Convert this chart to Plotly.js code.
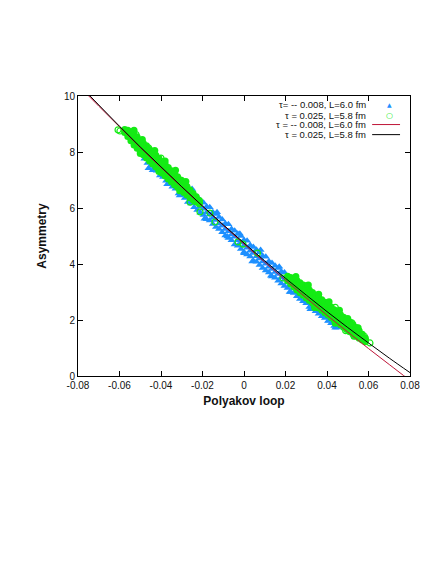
<!DOCTYPE html>
<html>
<head>
<meta charset="utf-8">
<script src="https://cdn.plot.ly/plotly-3.0.1.min.js"></script>
<style>
  body { margin: 0; background: white; }
  #graph { width: 436px; height: 564px; }
</style>
</head>
<body>
<div id="graph"></div>
<script>
// Datos

// tau = -0.008, L = 6.0 fm (triangulos azules): borde inferior, centro y borde superior de la banda
var blueX = [
    -0.048, -0.0465, -0.045, -0.0435, -0.042, -0.0405, -0.039, -0.0375, -0.036, -0.0345,
    -0.033, -0.0315, -0.030, -0.0285, -0.027, -0.0255, -0.024, -0.0225, -0.021, -0.0195,
    -0.018, -0.0165, -0.015, -0.0135, -0.012, -0.0105, -0.009, -0.0075, -0.006, -0.0045,
    -0.003, -0.0015, 0.000, 0.0015, 0.003, 0.0045, 0.006, 0.0075, 0.009, 0.0105,
    0.012, 0.0135, 0.015, 0.0165, 0.018, 0.0195, 0.021, 0.0225, 0.024, 0.0255,
    0.027, 0.0285, 0.030, 0.0315, 0.033, 0.0345, 0.036, 0.0375, 0.039, 0.0405,
    0.042, 0.0435, 0.045
];
var blueLow = [
    7.76, 7.61, 7.50, 7.40, 7.33, 7.16, 7.11, 6.97, 6.87, 6.76,
    6.69, 6.52, 6.47, 6.36, 6.21, 6.16, 6.03, 5.93, 5.83, 5.75,
    5.60, 5.55, 5.43, 5.32, 5.25, 5.13, 5.02, 4.93, 4.85, 4.70,
    4.65, 4.54, 4.43, 4.34, 4.27, 4.12, 4.08, 3.96, 3.86, 3.77,
    3.70, 3.55, 3.51, 3.40, 3.30, 3.21, 3.14, 3.00, 2.96, 2.85,
    2.75, 2.67, 2.60, 2.46, 2.42, 2.31, 2.22, 2.13, 2.07, 1.96,
    1.88, 1.79, 1.73
];
var blueMid = [
    7.95, 7.86, 7.73, 7.64, 7.52, 7.43, 7.30, 7.21, 7.09, 7.00,
    6.88, 6.79, 6.67, 6.58, 6.46, 6.38, 6.26, 6.17, 6.05, 5.97,
    5.85, 5.77, 5.65, 5.57, 5.45, 5.37, 5.25, 5.17, 5.05, 4.97,
    4.85, 4.77, 4.66, 4.58, 4.47, 4.39, 4.28, 4.20, 4.09, 4.01,
    3.90, 3.82, 3.71, 3.64, 3.53, 3.45, 3.34, 3.27, 3.16, 3.09,
    2.98, 2.91, 2.80, 2.73, 2.62, 2.55, 2.44, 2.37, 2.27, 2.20,
    2.10, 2.03, 1.93
];
var blueHigh = [
    8.15, 8.08, 7.93, 7.89, 7.72, 7.65, 7.53, 7.43, 7.29, 7.25,
    7.08, 7.01, 6.90, 6.80, 6.66, 6.63, 6.46, 6.39, 6.28, 6.19,
    6.05, 6.03, 5.85, 5.79, 5.68, 5.59, 5.45, 5.42, 5.25, 5.19,
    5.08, 5.00, 4.86, 4.83, 4.67, 4.61, 4.51, 4.42, 4.29, 4.26,
    4.10, 4.04, 3.94, 3.86, 3.73, 3.70, 3.54, 3.49, 3.39, 3.30,
    3.18, 3.15, 3.00, 2.94, 2.85, 2.76, 2.64, 2.61, 2.47, 2.41,
    2.33, 2.23, 2.12
];
// puntos azules sueltos en los bordes
var blueEdgeX = [
    -0.046, -0.044, -0.037, -0.031, -0.025, -0.019, -0.013, -0.008, -0.002, 0.000,
    0.004, 0.008, 0.013, 0.017, 0.022, 0.026, 0.032, 0.037, 0.041, 0.044
];
var blueEdgeY = [
    7.42, 7.35, 6.85, 6.45, 6.68, 5.62, 5.85, 4.98, 5.08, 4.38,
    4.09, 4.50, 3.58, 3.90, 3.00, 3.35, 2.38, 2.72, 1.98, 1.72
];

// tau = 0.025, L = 5.8 fm (circulos verdes): tramo izquierdo
var greenLX = [
    -0.0575, -0.056, -0.0545, -0.053, -0.0515, -0.050, -0.0485, -0.047, -0.0455, -0.044,
    -0.0425, -0.041, -0.0395, -0.038, -0.0365, -0.035, -0.0335, -0.032, -0.0305, -0.029,
    -0.0275, -0.026, -0.0245, -0.023, -0.0215
];
var greenLLow = [
    8.70, 8.55, 8.40, 8.25, 8.13, 8.02, 7.90, 7.79, 7.68, 7.57,
    7.46, 7.36, 7.25, 7.14, 7.04, 6.94, 6.83, 6.74, 6.64, 6.55,
    6.46, 6.37, 6.29, 6.21, 6.14
];
var greenLMid = [
    8.76, 8.66, 8.56, 8.44, 8.33, 8.22, 8.10, 7.99, 7.88, 7.77,
    7.66, 7.57, 7.45, 7.35, 7.24, 7.13, 7.02, 6.92, 6.81, 6.71,
    6.61, 6.50, 6.40, 6.30, 6.20
];
var greenLHigh = [
    8.80, 8.78, 8.72, 8.63, 8.54, 8.42, 8.31, 8.22, 8.09, 7.99,
    7.88, 7.78, 7.66, 7.56, 7.45, 7.33, 7.23, 7.12, 7.00, 6.88,
    6.77, 6.64, 6.52, 6.40, 6.27
];

// tramo derecho
var greenRX = [
    0.021, 0.0225, 0.024, 0.0255, 0.027, 0.0285, 0.030, 0.0315, 0.033, 0.0345,
    0.036, 0.0375, 0.039, 0.0405, 0.042, 0.0435, 0.045, 0.0465, 0.048, 0.0495,
    0.051, 0.0525, 0.054, 0.0555, 0.057, 0.0585
];
var greenRLow = [
    3.40, 3.29, 3.18, 3.07, 2.97, 2.88, 2.79, 2.70, 2.61, 2.52,
    2.43, 2.35, 2.26, 2.18, 2.09, 2.00, 1.91, 1.83, 1.74, 1.66,
    1.58, 1.50, 1.42, 1.35, 1.29, 1.22
];
var greenRMid = [
    3.48, 3.41, 3.33, 3.24, 3.15, 3.06, 2.97, 2.88, 2.79, 2.70,
    2.61, 2.53, 2.44, 2.36, 2.27, 2.18, 2.09, 2.00, 1.92, 1.84,
    1.76, 1.67, 1.58, 1.48, 1.38, 1.28
];
var greenRHigh = [
    3.56, 3.52, 3.48, 3.41, 3.33, 3.25, 3.16, 3.07, 2.98, 2.89,
    2.80, 2.72, 2.63, 2.55, 2.46, 2.37, 2.28, 2.19, 2.10, 2.01,
    1.93, 1.84, 1.73, 1.62, 1.49, 1.35
];
// puntos verdes en los bordes de la banda
var greenEdgeX = [
    -0.053, -0.050, -0.049, -0.043, -0.041, -0.038, -0.033, -0.031, -0.028,
    0.025, 0.031, 0.034, 0.036, 0.041, 0.044, 0.046, 0.050, 0.053, 0.055
];
var greenEdgeY = [
    8.78, 7.95, 8.45, 8.05, 7.30, 7.68, 7.35, 6.62, 6.95,
    3.55, 3.25, 2.45, 2.92, 2.65, 1.88, 2.35, 2.05, 1.42, 1.72
];

// circulos verdes sueltos
var greenOutX = [
    -0.0598, -0.0607, -0.052, -0.046, -0.040, -0.035, -0.030,
    -0.026, -0.0246, -0.0212, -0.0164, -0.0140, -0.0029, -0.0005,
    0.0065, 0.0188, 0.0236, 0.030, 0.044, 0.049, 0.052, 0.058, 0.0607
];
var greenOutY = [
    8.75, 8.79, 8.62, 8.15, 7.78, 7.00, 6.98,
    6.21, 6.39, 5.86, 5.82, 5.50, 4.79, 4.71,
    4.39, 3.50, 3.32, 3.22, 2.45, 1.62, 1.90, 1.42, 1.18
];

// curvas de ajuste
var fitX = [-0.08, -0.07, -0.06, -0.05, -0.04, -0.03, -0.02, -0.01, 0, 0.01, 0.02, 0.03, 0.04, 0.05, 0.06, 0.07, 0.08];
var fitRedY = [10.39, 9.64, 8.90, 8.16, 7.45, 6.75, 6.06, 5.38, 4.71, 4.06, 3.42, 2.79, 2.17, 1.57, 0.98, 0.41, -0.16];
var fitBlackY = [10.45, 9.68, 8.92, 8.18, 7.47, 6.76, 6.07, 5.40, 4.75, 4.11, 3.49, 2.89, 2.30, 1.73, 1.18, 0.64, 0.12];

var xTicks = [-0.08, -0.06, -0.04, -0.02, 0, 0.02, 0.04, 0.06, 0.08];
var xTickText = ['-0.08', '-0.06', '-0.04', '-0.02', '0', '0.02', '0.04', '0.06', '0.08'];
var yTicks = [0, 2, 4, 6, 8, 10];

var legendText = ['\u03c4= -- 0.008, L=6.0 fm', '\u03c4 = 0.025, L=5.8 fm',
                  '\u03c4 = -- 0.008, L=6.0 fm', '\u03c4 = 0.025, L=5.8 fm'];

var azul = 'rgb(30,144,255)';
var verde = 'rgb(20,235,20)';
var rojo = 'rgb(190,20,55)';
var fuente = 'Liberation Sans, Arial, sans-serif';

// juntar las filas de cada banda
var bX = blueX.concat(blueX, blueX, blueEdgeX);
var bY = blueLow.concat(blueMid, blueHigh, blueEdgeY);
var gX = greenLX.concat(greenLX, greenLX, greenRX, greenRX, greenRX, greenEdgeX);
var gY = greenLLow.concat(greenLMid, greenLHigh, greenRLow, greenRMid, greenRHigh, greenEdgeY);

var data = [
    {
        x: bX, y: bY, mode: 'markers', type: 'scatter',
        marker: { symbol: 'triangle-up', size: 7, color: azul },
        showlegend: false
    },
    {
        x: gX, y: gY, mode: 'markers', type: 'scatter',
        marker: { symbol: 'circle', size: 7, color: verde },
        showlegend: false
    },
    {
        x: greenOutX, y: greenOutY, mode: 'markers', type: 'scatter',
        marker: { symbol: 'circle-open', size: 6, color: verde, line: { width: 1.2 } },
        showlegend: false
    },
    {
        x: fitX, y: fitRedY, mode: 'lines', type: 'scatter',
        line: { color: rojo, width: 1, shape: 'spline' },
        showlegend: false
    },
    {
        x: fitX, y: fitBlackY, mode: 'lines', type: 'scatter',
        line: { color: 'black', width: 1, shape: 'spline' },
        showlegend: false
    }
];

// leyenda hecha a mano (texto a la izquierda, simbolo a la derecha)
var filasY = [0.968, 0.932, 0.898, 0.862];
var annotations = [];
for (var i = 0; i < legendText.length; i++) {
    annotations.push({
        xref: 'paper', yref: 'paper', x: 0.870, y: filasY[i],
        xanchor: 'right', yanchor: 'middle', showarrow: false, borderpad: 0,
        text: legendText[i], font: { family: fuente, size: 9.5, color: '#111' }
    });
}
annotations.push({
    xref: 'paper', yref: 'paper', x: 0.937, y: filasY[0], xanchor: 'center', yanchor: 'middle',
    showarrow: false, borderpad: 0, text: '\u25b2', font: { family: 'DejaVu Sans', size: 6, color: azul }
});
annotations.push({
    xref: 'paper', yref: 'paper', x: 0.937, y: filasY[1], xanchor: 'center', yanchor: 'middle',
    showarrow: false, borderpad: 0, text: '\u25cb', font: { family: 'DejaVu Sans', size: 8, color: verde }
});

var shapes = [
    { type: 'line', xref: 'paper', yref: 'paper', x0: 0.886, x1: 0.970, y0: filasY[2], y1: filasY[2],
      line: { color: rojo, width: 1 } },
    { type: 'line', xref: 'paper', yref: 'paper', x0: 0.886, x1: 0.970, y0: filasY[3], y1: filasY[3],
      line: { color: 'black', width: 1 } }
];

var layout = {
    width: 436,
    height: 564,
    margin: { l: 78, r: 26, t: 96, b: 188 },
    paper_bgcolor: 'white',
    plot_bgcolor: 'white',
    font: { family: fuente, size: 10, color: '#111' },
    showlegend: false,
    xaxis: {
        range: [-0.08, 0.08],
        tickvals: xTicks,
        ticktext: xTickText,
        ticks: 'inside', ticklen: 5, tickcolor: 'black',
        showline: true, linecolor: 'black', linewidth: 1, mirror: 'ticks',
        showgrid: false, zeroline: false,
        tickfont: { family: fuente, size: 10, color: '#111' },
        title: { text: 'Polyakov loop', font: { family: fuente, size: 12, weight: 'bold', color: '#111' }, standoff: 6 }
    },
    yaxis: {
        range: [0, 10],
        tickvals: yTicks,
        ticks: 'inside', ticklen: 5, tickcolor: 'black',
        showline: true, linecolor: 'black', linewidth: 1, mirror: 'ticks',
        showgrid: false, zeroline: false,
        tickfont: { family: fuente, size: 10, color: '#111' },
        title: { text: 'Asymmetry', font: { family: fuente, size: 12, weight: 'bold', color: '#111' }, standoff: 14 }
    },
    annotations: annotations,
    shapes: shapes
};

var config = { staticPlot: true, displayModeBar: false };

Plotly.newPlot('graph', data, layout, config);
</script>
</body>
</html>
